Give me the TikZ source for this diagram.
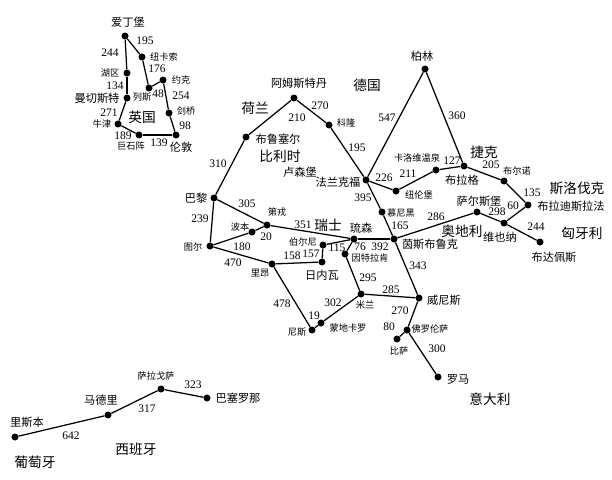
\documentclass[tikz,border=0pt]{standalone}
\usepackage{fontspec}
\setmainfont{Liberation Serif}
\newfontfamily\cjk{Noto Sans CJK SC}
\begin{document}
\begin{tikzpicture}[
  x=1pt, y=-1pt,
  city/.style={circle, fill=black, inner sep=0pt, minimum size=7pt},
  road/.style={line width=1.25pt},
  dist/.style={inner sep=0pt, font=\fontsize{11.5}{12}\selectfont},
  minor/.style={inner sep=0pt, font=\cjk\fontsize{9.2}{10}\selectfont},
  major/.style={inner sep=0pt, font=\cjk\fontsize{11.2}{12}\selectfont},
  land/.style={inner sep=0pt, font=\cjk\fontsize{13.7}{14}\selectfont},
]
\useasboundingbox (0,0) rectangle (612,479);

% Britain
\node[city] (edinburgh) at (125,36) {};
\node[city] (newcastle) at (142,57) {};
\node[city] (lakes) at (127,73) {};
\node[city] (leeds) at (149,88) {};
\node[city] (york) at (163,80) {};
\node[city] (manchester) at (127,98) {};
\node[city] (cambridge) at (169,113) {};
\node[city] (oxford) at (118,124) {};
\node[city] (stonehenge) at (139,135) {};
\node[city] (london) at (176,135) {};

% Low countries and France
\node[city] (amsterdam) at (294,98) {};
\node[city] (brussels) at (246,137) {};
\node[city] (paris) at (214,198) {};
\node[city] (dijon) at (267,225) {};
\node[city] (beaune) at (252,232) {};
\node[city] (tours) at (210,246) {};
\node[city] (lyon) at (272,264) {};
\node[city] (nice) at (312,330) {};
\node[city] (monaco) at (321,323) {};

% Germany and Switzerland
\node[city] (cologne) at (329,125) {};
\node[city] (frankfurt) at (366,180) {};
\node[city] (berlin) at (425,69) {};
\node[city] (nuremberg) at (396,191) {};
\node[city] (munich) at (382,212) {};
\node[city] (bern) at (323,245) {};
\node[city] (geneva) at (322,262) {};
\node[city] (lucerne) at (354,239) {};
\node[city] (interlaken) at (345,254) {};

% Central Europe
\node[city] (carlsbad) at (436,170) {};
\node[city] (prague) at (464,166) {};
\node[city] (brno) at (504,181) {};
\node[city] (bratislava) at (528,205) {};
\node[city] (salzburg) at (477,212) {};
\node[city] (vienna) at (504,223) {};
\node[city] (budapest) at (540,242) {};
\node[city] (innsbruck) at (394,239) {};

% Italy
\node[city] (milan) at (361,294) {};
\node[city] (venice) at (419,298) {};
\node[city] (florence) at (407,330) {};
\node[city] (pisa) at (397,339) {};
\node[city] (rome) at (438,377) {};

% Iberia
\node[city] (lisbon) at (15,437) {};
\node[city] (madrid) at (108,415) {};
\node[city] (zaragoza) at (161,389) {};
\node[city] (barcelona) at (207,398) {};

% Roads
\draw[road] (edinburgh) -- (newcastle);
\draw[road] (newcastle) -- (leeds);
\draw[road] (leeds) -- (york);
\draw[road] (york) -- (cambridge);
\draw[road] (cambridge) -- (london);
\draw[road] (london) -- (stonehenge);
\draw[road] (stonehenge) -- (oxford);
\draw[road] (oxford) -- (manchester);
\draw[road] (manchester) -- (lakes);
\draw[road] (lakes) -- (edinburgh);
\draw[road] (paris) -- (brussels);
\draw[road] (brussels) -- (amsterdam);
\draw[road] (amsterdam) -- (cologne);
\draw[road] (cologne) -- (frankfurt);
\draw[road] (frankfurt) -- (berlin);
\draw[road] (berlin) -- (prague);
\draw[road] (frankfurt) -- (nuremberg);
\draw[road] (nuremberg) -- (carlsbad);
\draw[road] (carlsbad) -- (prague);
\draw[road] (prague) -- (brno);
\draw[road] (brno) -- (bratislava);
\draw[road] (bratislava) -- (vienna);
\draw[road] (vienna) -- (budapest);
\draw[road] (vienna) -- (salzburg);
\draw[road] (salzburg) -- (innsbruck);
\draw[road] (frankfurt) -- (munich);
\draw[road] (munich) -- (innsbruck);
\draw[road] (innsbruck) -- (venice);
\draw[road] (innsbruck) -- (lucerne);
\draw[road] (lucerne) -- (dijon);
\draw[road] (dijon) -- (paris);
\draw[road] (dijon) -- (beaune);
\draw[road] (beaune) -- (tours);
\draw[road] (paris) -- (tours);
\draw[road] (tours) -- (lyon);
\draw[road] (lyon) -- (geneva);
\draw[road] (geneva) -- (bern);
\draw[road] (bern) -- (lucerne);
\draw[road] (lucerne) -- (interlaken);
\draw[road] (interlaken) -- (milan);
\draw[road] (milan) -- (venice);
\draw[road] (venice) -- (florence);
\draw[road] (florence) -- (pisa);
\draw[road] (florence) -- (rome);
\draw[road] (milan) -- (monaco);
\draw[road] (monaco) -- (nice);
\draw[road] (nice) -- (lyon);
\draw[road] (lisbon) -- (madrid);
\draw[road] (madrid) -- (zaragoza);
\draw[road] (zaragoza) -- (barcelona);

% Road lengths
\node[dist] (d1) at (145,41) {195};
\node[dist] (d2) at (110,53) {244};
\node[dist] (d3) at (157,69) {176};
\node[dist] (d4) at (115,86) {134};
\node[dist] (d5) at (158,94) {48};
\node[dist] (d6) at (181,96) {254};
\node[dist] (d7) at (109,113) {271};
\node[dist] (d8) at (185,126) {98};
\node[dist] (d9) at (123,136) {189};
\node[dist] (d10) at (159,143) {139};
\node[dist] (d11) at (218,164) {310};
\node[dist] (d12) at (297,118) {210};
\node[dist] (d13) at (320,106) {270};
\node[dist] (d14) at (357,148) {195};
\node[dist] (d15) at (387,118) {547};
\node[dist] (d16) at (457,116) {360};
\node[dist] (d17) at (384,178) {226};
\node[dist] (d18) at (408,174) {211};
\node[dist] (d19) at (452,161) {127};
\node[dist] (d20) at (491,165) {205};
\node[dist] (d21) at (532,193) {135};
\node[dist] (d22) at (513,206) {60};
\node[dist] (d23) at (497,212) {298};
\node[dist] (d24) at (536,227) {244};
\node[dist] (d25) at (436,217) {286};
\node[dist] (d26) at (363,198) {395};
\node[dist] (d27) at (400,226) {165};
\node[dist] (d28) at (380,247) {392};
\node[dist] (d29) at (418,266) {343};
\node[dist] (d30) at (200,219) {239};
\node[dist] (d31) at (247,204) {305};
\node[dist] (d32) at (303,225) {351};
\node[dist] (d33) at (266,237) {20};
\node[dist] (d34) at (242,247) {180};
\node[dist] (d35) at (233,263) {470};
\node[dist] (d36) at (292,256) {158};
\node[dist] (d37) at (311,254) {157};
\node[dist] (d38) at (337,248) {115};
\node[dist] (d39) at (360,247) {76};
\node[dist] (d40) at (368,278) {295};
\node[dist] (d41) at (391,290) {285};
\node[dist] (d42) at (282,304) {478};
\node[dist] (d43) at (333,303) {302};
\node[dist] (d44) at (314,316) {19};
\node[dist] (d45) at (400,311) {270};
\node[dist] (d46) at (389,327) {80};
\node[dist] (d47) at (437,349) {300};
\node[dist] (d48) at (193,385) {323};
\node[dist] (d49) at (147,409) {317};
\node[dist] (d50) at (71,436) {642};

% City names
\node[major] (t-edinburgh) at (128,22) {爱丁堡};
\node[minor] (t-newcastle) at (164,57) {纽卡索};
\node[minor] (t-lakes) at (110,73) {湖区};
\node[minor] (t-york) at (181,80) {约克};
\node[major] (t-manchester) at (97,98) {曼切斯特};
\node[minor] (t-leeds) at (142,97) {列斯};
\node[minor] (t-cambridge) at (186,111) {剑桥};
\node[minor] (t-oxford) at (102,124) {牛津};
\node[minor] (t-stonehenge) at (131,146) {巨石阵};
\node[major] (t-london) at (181,147) {伦敦};
\node[major] (t-amsterdam) at (299,83) {阿姆斯特丹};
\node[minor] (t-cologne) at (346,123) {科隆};
\node[major] (t-brussels) at (278,139) {布鲁塞尔};
\node[major] (t-luxembourg) at (300,172) {卢森堡};
\node[major] (t-frankfurt) at (338,182) {法兰克福};
\node[major] (t-paris) at (196,198) {巴黎};
\node[minor] (t-dijon) at (277,212) {第戎};
\node[minor] (t-beaune) at (240,227) {波本};
\node[major] (t-lucerne) at (361,228) {琉森};
\node[minor] (t-munich) at (401,213) {慕尼黑};
\node[minor] (t-bern) at (303,242) {伯尔尼};
\node[minor] (t-tours) at (193,247) {图尔};
\node[minor] (t-interlaken) at (370,258) {因特拉肯};
\node[minor] (t-lyon) at (260,273) {里昂};
\node[major] (t-geneva) at (322,275) {日内瓦};
\node[minor] (t-milan) at (365,305) {米兰};
\node[minor] (t-monaco) at (348,328) {蒙地卡罗};
\node[minor] (t-nice) at (297,332) {尼斯};
\node[minor] (t-pisa) at (399,351) {比萨};
\node[major] (t-berlin) at (422,56) {柏林};
\node[minor] (t-carlsbad) at (417,158) {卡洛维温泉};
\node[minor] (t-brno) at (517,171) {布尔诺};
\node[major] (t-prague) at (462,180) {布拉格};
\node[minor] (t-nuremberg) at (419,195) {纽伦堡};
\node[major] (t-salzburg) at (479,201) {萨尔斯堡};
\node[major] (t-vienna) at (500,237) {维也纳};
\node[major] (t-innsbruck) at (430,244) {茵斯布鲁克};
\node[major] (t-bratislava) at (571,206) {布拉迪斯拉法};
\node[major] (t-budapest) at (554,257) {布达佩斯};
\node[major] (t-venice) at (444,300) {威尼斯};
\node[minor] (t-florence) at (430,329) {佛罗伦萨};
\node[major] (t-rome) at (458,379) {罗马};
\node[minor] (t-zaragoza) at (156,376) {萨拉戈萨};
\node[major] (t-madrid) at (101,400) {马德里};
\node[major] (t-barcelona) at (238,398) {巴塞罗那};
\node[major] (t-lisbon) at (27,422) {里斯本};

% Countries
\node[land] (britain) at (142,117) {英国};
\node[land] (netherlands) at (255,108) {荷兰};
\node[land] (germany) at (367,85) {德国};
\node[land] (belgium) at (280,156) {比利时};
\node[land] (switzerland) at (328,225) {瑞士};
\node[land] (czech) at (484,152) {捷克};
\node[land] (slovakia) at (577,188) {斯洛伐克};
\node[land] (austria) at (462,231) {奥地利};
\node[land] (hungary) at (582,233) {匈牙利};
\node[land] (italy) at (490,399) {意大利};
\node[land] (spain) at (136,449) {西班牙};
\node[land] (portugal) at (35,462) {葡萄牙};

\end{tikzpicture}
\end{document}
